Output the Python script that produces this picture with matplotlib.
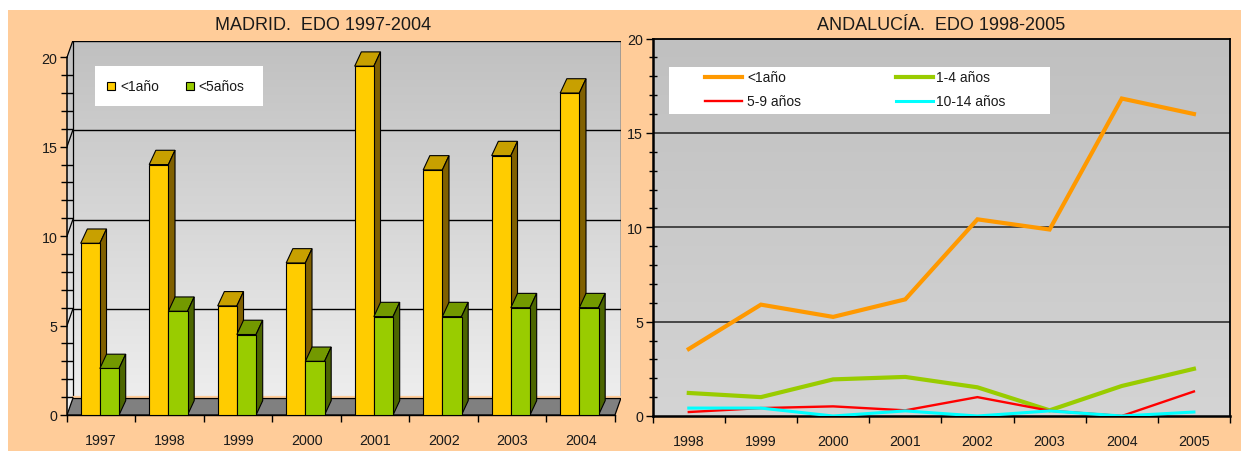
import numpy as np
import matplotlib
matplotlib.use("Agg")
import matplotlib.pyplot as plt
from matplotlib.colors import LinearSegmentedColormap
from matplotlib.lines import Line2D
from matplotlib.patches import Polygon, Rectangle

plt.rcParams["font.family"] = ["Liberation Sans", "DejaVu Sans"]

# Madrid, 3D bars
madrid_years = ["1997", "1998", "1999", "2000", "2001", "2002", "2003", "2004"]
madrid_labels = ["<1año", "<5años"]
madrid_under1 = [9.6, 14.0, 6.1, 8.5, 19.5, 13.7, 14.5, 18.0]
madrid_under5 = [2.6, 5.8, 4.5, 3.0, 5.5, 5.5, 6.0, 6.0]

# Andalucia, lines
andalucia_years = ["1998", "1999", "2000", "2001", "2002", "2003", "2004", "2005"]
andalucia_labels = ["<1año", "1-4 años", "5-9 años", "10-14 años"]
andalucia_under1 = [3.55, 5.9, 5.25, 6.18, 10.42, 9.88, 16.82, 16.0]
andalucia_1_4 = [1.22, 1.0, 1.94, 2.07, 1.52, 0.3, 1.59, 2.5]
andalucia_5_9 = [0.21, 0.42, 0.51, 0.3, 1.0, 0.28, 0.0, 1.3]
andalucia_10_14 = [0.42, 0.42, 0.0, 0.27, 0.0, 0.27, 0.0, 0.21]

W, H = 1250, 452
PEACH = "#FFCC99"
TXT = "#1a1a1a"
DX, DY = 0.085, 0.92      # depth of floor / back wall (data units)
BDX, BDY = 0.097, 0.8     # depth of each bar


def fig_rect(l, t, r, b):
    return [l / W, 1 - b / H, (r - l) / W, (b - t) / H]


def px(x, y):
    return x / W, 1 - y / H


def bar3d(ax, lefts, heights, width, front, top, side, z):
    ax.bar(lefts, heights, width=width, align="edge", color=front,
           edgecolor="black", linewidth=0.8, zorder=z + 1)
    for x0, h in zip(lefts, heights):
        x1 = x0 + width
        ax.add_patch(Polygon([(x0, h), (x1, h), (x1 + BDX, h + BDY), (x0 + BDX, h + BDY)],
                             closed=True, facecolor=top, edgecolor="black", lw=0.8, zorder=z))
        ax.add_patch(Polygon([(x1, 0), (x1 + BDX, BDY), (x1 + BDX, h + BDY), (x1, h)],
                             closed=True, facecolor=side, edgecolor="black", lw=0.8, zorder=z))


fig = plt.figure(figsize=(W / 100, H / 100), dpi=100)
fig.patch.set_facecolor("white")
fig.add_artist(Rectangle(px(8, 452), 1233 / W, 441 / H, transform=fig.transFigure,
                         facecolor=PEACH, edgecolor="none", zorder=-5))

fig.text(*px(323, 25), "MADRID.  EDO 1997-2004", ha="center", va="center",
         fontsize=13, color=TXT)
fig.text(*px(941, 26), "ANDALUCÍA.  EDO 1998-2005", ha="center", va="center",
         fontsize=13, color=TXT)

# ---------------- left: pseudo 3D bar chart ----------------
n = len(madrid_years)
ax = fig.add_axes(fig_rect(67, 41.8, 620.8, 416))
ax.patch.set_visible(False)

grad = np.linspace(0, 1, 256).reshape(-1, 1)
wall_cmap = LinearSegmentedColormap.from_list("wall", ["#c0c0c0", "#f0f0f0"])
im = ax.imshow(grad, cmap=wall_cmap, extent=[0, n + DX, 0, 20 + DY], aspect="auto",
               origin="upper", zorder=0)
wall = Polygon([(0, 0), (DX, DY), (n + DX, DY), (n + DX, 20 + DY), (DX, 20 + DY), (0, 20)],
               closed=True, transform=ax.transData)
im.set_clip_path(wall)
ax.set_xlim(0, n + DX)
ax.set_ylim(0, 20 + DY)

# back wall outline and grid
for v in [5, 10, 15, 20]:
    ax.plot([DX, n + DX], [v + DY, v + DY], color="black", lw=1.0, zorder=1)
    ax.plot([0, DX], [v, v + DY], color="black", lw=0.9, zorder=1)
ax.plot([DX, DX], [DY, 20 + DY], color="black", lw=0.9, zorder=1)
ax.plot([n + DX, n + DX], [DY, 20 + DY], color="black", lw=1.0, zorder=1)

# floor
ax.plot([DX, n + DX], [DY + 0.1, DY + 0.1], color=PEACH, lw=1.6, zorder=1.5)
ax.add_patch(Polygon([(0, 0), (n, 0), (n + DX, DY), (DX, DY)], closed=True,
                     facecolor="#808080", edgecolor="black", lw=0.9, zorder=2))

xs = np.arange(n)
bar3d(ax, xs + 0.2, madrid_under1, 0.28, "#FFCC00", "#C8A000", "#806000", 3)
bar3d(ax, xs + 0.48, madrid_under5, 0.28, "#99CC00", "#739900", "#4C6600", 5)

for s in ["top", "right"]:
    ax.spines[s].set_visible(False)
ax.spines["left"].set_bounds(0, 20)
ax.spines["bottom"].set_bounds(0, n)
ax.spines["left"].set_linewidth(1.1)
ax.spines["bottom"].set_linewidth(1.0)
ax.set_yticks([0, 5, 10, 15, 20])
ax.set_yticks(range(0, 21), minor=True)
ax.set_xticks(range(0, n + 1))
ax.set_xticklabels([])
ax.set_xticks(xs + 0.5, minor=True)
ax.set_xticklabels(madrid_years, minor=True)
ax.tick_params(axis="y", which="major", direction="out", length=5, width=1, pad=2,
               labelsize=10.3, labelcolor=TXT)
ax.tick_params(axis="y", which="minor", direction="inout", length=9, width=1)
ax.tick_params(axis="x", which="major", direction="out", length=5, width=1)
ax.tick_params(axis="x", which="minor", length=0, pad=13, labelsize=10.3, labelcolor=TXT)

# left legend
fig.add_artist(Rectangle(px(95, 107), 168 / W, 40 / H, transform=fig.transFigure,
                         facecolor="white", edgecolor="none", zorder=10))
for (cx, tx), lab, col in zip([(111, 120), (190, 198)], madrid_labels, ["#FFCC00", "#99CC00"]):
    fig.add_artist(Rectangle(px(cx - 4, 91), 8 / W, 8 / H, transform=fig.transFigure,
                             facecolor=col, edgecolor="black", lw=0.8, zorder=11))
    fig.text(*px(tx, 87), lab, ha="left", va="center", fontsize=10, color=TXT, zorder=11)

# ---------------- right: line chart ----------------
ax2 = fig.add_axes(fig_rect(652.7, 39.5, 1230, 417))
m = len(andalucia_years)
bg_cmap = LinearSegmentedColormap.from_list("bg", ["#c0c0c0", "#d4d4d4"])
ax2.imshow(grad, cmap=bg_cmap, extent=[0, m, 0, 20], aspect="auto", origin="upper", zorder=0)
ax2.set_xlim(0, m)
ax2.set_ylim(0, 20)
for v in [5, 10, 15]:
    ax2.axhline(v, color="#303030", lw=1.2, zorder=1)

xc = np.arange(m) + 0.5
series = [andalucia_under1, andalucia_1_4, andalucia_5_9, andalucia_10_14]
colors = ["#FF9900", "#99CC00", "#FF0000", "#00FFFF"]
widths = [3.0, 3.0, 1.7, 2.2]
for vals, col, lw in zip(series, colors, widths):
    ax2.plot(xc, vals, color=col, lw=lw, zorder=3, solid_joinstyle="miter")

for s in ax2.spines.values():
    s.set_color("black")
    s.set_linewidth(1.3)
ax2.spines["left"].set_linewidth(1.8)
ax2.spines["bottom"].set_linewidth(1.8)
ax2.set_yticks([0, 5, 10, 15, 20])
ax2.set_yticks(range(0, 21), minor=True)
ax2.set_xticks(range(0, m + 1))
ax2.set_xticklabels([])
ax2.set_xticks(xc, minor=True)
ax2.set_xticklabels(andalucia_years, minor=True)
ax2.tick_params(axis="y", which="major", direction="out", length=5, width=1, pad=2,
                labelsize=10.3, labelcolor=TXT)
ax2.tick_params(axis="y", which="minor", direction="inout", length=6, width=1)
ax2.tick_params(axis="x", which="major", direction="out", length=5, width=1)
ax2.tick_params(axis="x", which="minor", length=0, pad=13, labelsize=10.3, labelcolor=TXT)

# right legend
fig.add_artist(Rectangle(px(669, 115), 381 / W, 47 / H, transform=fig.transFigure,
                         facecolor="white", edgecolor="none", zorder=10))
slots = [(705, 742, 747, 78), (896, 933, 936, 78), (705, 742, 747, 102), (896, 933, 936, 102)]
for (x0, x1, tx, y), lab, col, lw in zip(slots, andalucia_labels, colors, widths):
    fig.add_artist(Line2D([x0 / W, x1 / W], [1 - y / H, 1 - y / H], color=col, lw=lw,
                          transform=fig.transFigure, zorder=11))
    fig.text(*px(tx, y), lab, ha="left", va="center", fontsize=10, color=TXT, zorder=11)

fig.savefig("out.png", dpi=100, facecolor=fig.get_facecolor())
